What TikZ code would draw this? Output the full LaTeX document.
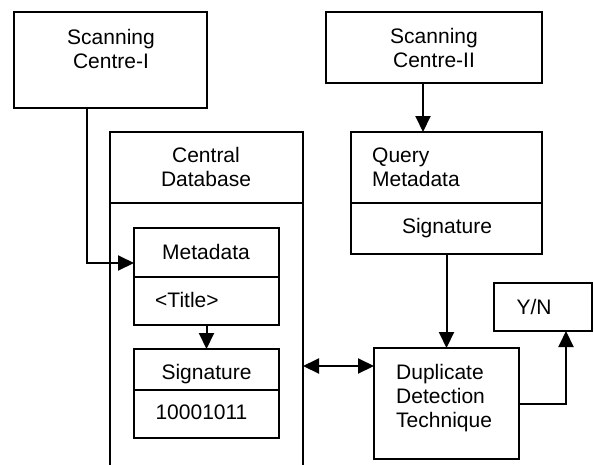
\documentclass[tikz,border=0pt]{standalone}
\usepackage{fontspec}
\setmainfont{Liberation Sans}
\usetikzlibrary{arrows.meta}
\begin{document}
\begin{tikzpicture}[x=1pt,y=-1pt,
  ln/.style={line width=2pt},
  box/.style={ln,draw,rectangle,inner sep=0pt,outer sep=0pt},
  txt/.style={inner sep=0pt,font=\fontsize{21}{24}\selectfont,anchor=base},
  arr/.style={ln,-{Triangle[length=16pt,width=15pt]}},
  darr/.style={ln,{Triangle[length=16pt,width=15pt]}-{Triangle[length=16pt,width=15pt]}}
]
\useasboundingbox (0,0) rectangle (594,464);
% boxes
\node[box,minimum width=193pt,minimum height=96pt] (sc1) at (110.5,60) {};
\node[box,minimum width=216pt,minimum height=71pt] (sc2) at (434,47.5) {};
\node[rectangle,draw=none,inner sep=0pt,outer sep=0pt,minimum width=193pt,minimum height=334pt] (cdb) at (206.5,299) {};
\node[box,minimum width=191pt,minimum height=71pt] (qhead) at (446.5,167.5) {};
\node[box,minimum width=191pt,minimum height=51pt] (qsig) at (446.5,228.5) {};
\node[box,minimum width=145pt,minimum height=49pt] (mhead) at (206.5,252.5) {};
\node[box,minimum width=145pt,minimum height=48pt] (mtitle) at (206.5,301) {};
\node[box,minimum width=145pt,minimum height=41pt] (shead) at (206.5,369.5) {};
\node[box,minimum width=145pt,minimum height=48pt] (sval) at (206.5,414) {};
\node[box,minimum width=145pt,minimum height=111pt] (ddt) at (446.5,403.5) {};
\node[box,minimum width=98pt,minimum height=48pt] (yn) at (543,307) {};
% central database outline (open at the bottom)
\draw[ln] (cdb.south west) -- (cdb.north west) -- (cdb.north east) -- (cdb.south east);
\draw[ln] (cdb.west |- qhead.south) -- (cdb.east |- qhead.south);
% texts
\node[txt,align=center] (t1) at (111,68) {Scanning\\Centre-I};
\node[txt,align=center] (t2) at (434,67) {Scanning\\Centre-II};
\node[txt,align=center] (t3) at (206,186) {Central\\Database};
\node[txt,align=left,anchor=base west] (t4) at (372,186) {Query\\Metadata};
\node[txt] (t5) at (447,233) {Signature};
\node[txt] (t6) at (206,259) {Metadata};
\node[txt,anchor=base west] (t7) at (155,307) {<Title>};
\node[txt] (t8) at (206.5,379) {Signature};
\node[txt] (t9) at (201.5,419) {10001011};
\node[txt,align=left,anchor=base west] (t10) at (396,427) {Duplicate\\Detection\\Technique};
\node[txt] (t11) at (534,314) {Y/N};
% connectors
\draw[arr] ([xshift=-23.5pt]sc1.south) |- ([yshift=-10.5pt]mhead.west);
\draw[arr] ([xshift=-11pt]sc2.south) -- ([xshift=-11pt]sc2.south |- qhead.north);
\draw[arr] (qsig.south) -- (ddt.north);
\draw[arr] (mtitle.south) -- (shead.north);
\draw[darr] ([yshift=37.5pt]ddt.west -| cdb.east) -- ([yshift=37.5pt]ddt.west);
\draw[arr] (ddt.east) -| ([xshift=23pt]yn.south);
\end{tikzpicture}
\end{document}
